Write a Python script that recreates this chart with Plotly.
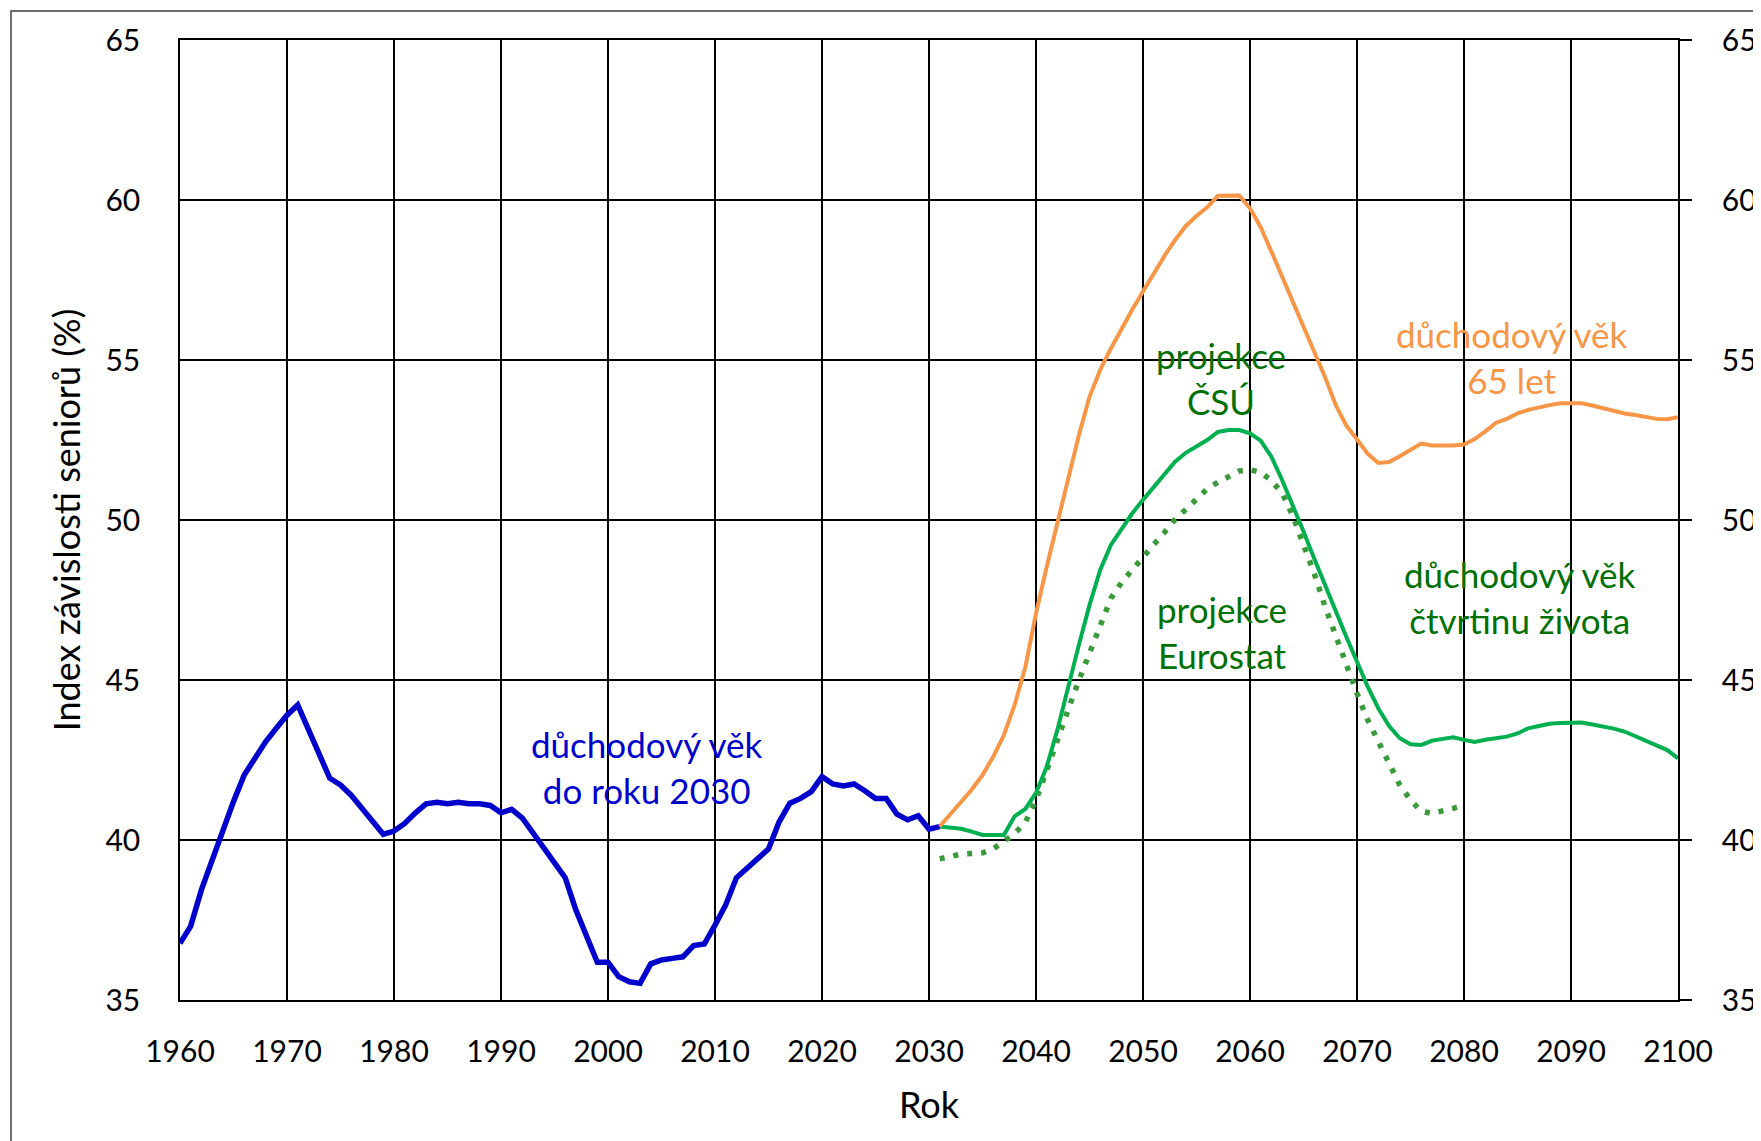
import plotly.graph_objects as go

# historie (modrá) 1960-2031
roky_hist = list(range(1960, 2032))
hist = [36.77, 37.31, 38.44, 39.4, 40.29, 41.2, 42.03, 42.55, 43.07, 43.49,
        43.9, 44.22, 43.44, 42.66, 41.93, 41.72, 41.4, 40.99, 40.57, 40.18,
        40.28, 40.52, 40.85, 41.13, 41.18, 41.13, 41.18, 41.13, 41.13, 41.08,
        40.85, 40.96, 40.68, 40.23, 39.79, 39.27, 38.82, 37.81, 36.98, 36.18,
        36.18, 35.73, 35.57, 35.52, 36.13, 36.25, 36.3, 36.35, 36.7, 36.75,
        37.34, 37.97, 38.82, 39.11, 39.43, 39.72, 40.57, 41.15, 41.3, 41.51,
        41.98, 41.75, 41.69, 41.75, 41.54, 41.3, 41.3, 40.81, 40.63, 40.76,
        40.34, 40.42]

# projekce CSU, duchodovy vek 65 let (oranzova) 2031-2100
roky_proj = list(range(2031, 2101))
vek65 = [40.42, 40.81, 41.2, 41.58, 42.03, 42.6, 43.28, 44.22, 45.4, 47.08,
         48.54, 49.93, 51.3, 52.64, 53.85, 54.69, 55.36, 56.0, 56.58, 57.14,
         57.71, 58.25, 58.75, 59.19, 59.5, 59.77, 60.13, 60.14, 60.14, 59.74,
         59.15, 58.39, 57.6, 56.82, 56.04, 55.2, 54.48, 53.6, 52.95, 52.52,
         52.07, 51.78, 51.81, 51.99, 52.2, 52.39, 52.33, 52.32, 52.33, 52.36,
         52.53, 52.77, 53.04, 53.16, 53.33, 53.44, 53.53, 53.59, 53.65, 53.65,
         53.65, 53.58, 53.49, 53.42, 53.33, 53.28, 53.23, 53.16, 53.15, 53.21]

# projekce CSU, duchodovy vek ctvrtinu zivota (zelena) 2031-2100
ctvrtina = [40.42, 40.4, 40.35, 40.26, 40.16, 40.16, 40.16, 40.74, 40.97, 41.47,
            42.29, 43.44, 44.79, 46.09, 47.34, 48.44, 49.22, 49.74, 50.21, 50.63,
            51.02, 51.44, 51.82, 52.1, 52.31, 52.5, 52.75, 52.81, 52.81, 52.71,
            52.48, 51.98, 51.25, 50.47, 49.64, 48.8, 47.97, 47.14, 46.35, 45.57,
            44.79, 44.11, 43.56, 43.18, 42.99, 42.97, 43.1, 43.16, 43.21, 43.13,
            43.06, 43.13, 43.18, 43.23, 43.33, 43.49, 43.56, 43.63, 43.66, 43.67,
            43.67, 43.61, 43.56, 43.48, 43.39, 43.25, 43.1, 42.97, 42.81, 42.55]

# projekce Eurostat (teckovana) 2031-2080
roky_euro = list(range(2031, 2081))
eurostat = [39.41, 39.5, 39.56, 39.58, 39.6, 39.72, 39.95, 40.2, 40.55, 41.25,
            42.17, 43.17, 44.07, 44.98, 45.86, 46.79, 47.55, 48.05, 48.46, 48.85,
            49.23, 49.61, 50.02, 50.33, 50.63, 50.97, 51.18, 51.36, 51.53, 51.57,
            51.49, 51.23, 50.85, 50.13, 49.25, 48.33, 47.31, 46.38, 45.49, 44.58,
            43.75, 43.04, 42.33, 41.72, 41.25, 40.9, 40.83, 40.89, 40.99, 41.09]

FONT = "Lato"

fig = go.Figure()
fig.add_trace(go.Scatter(x=roky_euro, y=eurostat, mode="lines",
                         line=dict(color="#3A9A3A", width=5.5, dash="5px,9px")))
fig.add_trace(go.Scatter(x=roky_proj, y=ctvrtina, mode="lines",
                         line=dict(color="#00B050", width=4)))
fig.add_trace(go.Scatter(x=roky_proj, y=vek65, mode="lines", yaxis="y2",
                         line=dict(color="#F79646", width=4)))
fig.add_trace(go.Scatter(x=roky_hist, y=hist, mode="lines",
                         line=dict(color="#0000CC", width=5.5)))

popisky = [
    (2003.6, 42.28, "důchodový věk<br>do roku 2030", "#0000CC"),
    (2057.3, 54.44, "projekce<br>ČSÚ", "#007000"),
    (2057.4, 46.51, "projekce<br>Eurostat", "#007000"),
    (2084.5, 55.1, "důchodový věk<br>65 let", "#F79646"),
    (2085.2, 47.6, "důchodový věk<br>čtvrtinu života", "#007000"),
]
for x, y, t, c in popisky:
    fig.add_annotation(x=x, y=y, text=t, showarrow=False,
                       font=dict(family=FONT, size=35, color=c))

# vnejsi ramecek grafu
fig.add_shape(type="rect", xref="paper", yref="paper",
              x0=-169 / 1498, x1=1.2, y0=-0.3, y1=1 + 29 / 960,
              line=dict(color="#404040", width=1.5), layer="below")

# stranka ma okraj 8 px, proto jsou okraje o 8 px mensi vlevo a nahore
fig.update_layout(
    width=1761, height=1141,
    margin=dict(l=172, r=85, t=32, b=149),
    plot_bgcolor="white", paper_bgcolor="white",
    showlegend=False,
    font=dict(family=FONT, size=30, color="black"),
    xaxis=dict(range=[1960, 2100], dtick=10, tick0=1960, showgrid=True,
               gridcolor="black", gridwidth=1.5, showline=True, mirror=True,
               linecolor="black", linewidth=2, ticks="", zeroline=False,
               ticklabelstandoff=24,
               title=dict(text="Rok", standoff=26)),
    yaxis=dict(range=[35, 65], dtick=5, showgrid=True, gridcolor="black",
               gridwidth=1.5, showline=True, linecolor="black", linewidth=1.5,
               ticks="", zeroline=False, ticklabelstandoff=32,
               title=dict(text="Index závislosti seniorů (%)", standoff=14)),
    yaxis2=dict(range=[35, 65], dtick=5, overlaying="y", side="right",
                showgrid=False, showline=True, linecolor="black", linewidth=1.5,
                ticks="outside", ticklen=12,
                tickwidth=1.5, tickcolor="black", zeroline=False,
                ticklabelstandoff=24),
)

fig.write_html("out.html")
